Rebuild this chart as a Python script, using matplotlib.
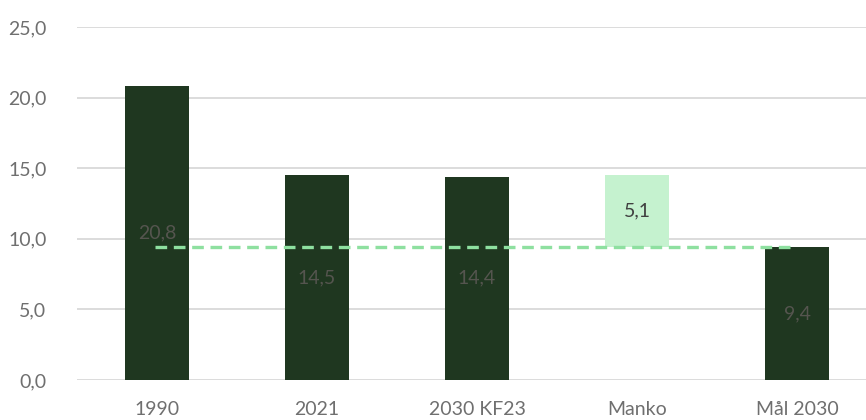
import matplotlib.pyplot as plt

# data
categories = ['1990', '2021', '2030 KF23', 'Manko', 'Mål 2030']
bottoms = [0, 0, 0, 9.4, 0]
heights = [20.8, 14.5, 14.4, 5.1, 9.4]
labels = ['20,8', '14,5', '14,4', '5,1', '9,4']
target = 9.4
yticks = [0, 5, 10, 15, 20, 25]

dark = '#1f3720'
light = '#c5f2cf'
colors = [dark, dark, dark, light, dark]
label_colors = ['#55554f', '#55554f', '#55554f', '#404040', '#55554f']

plt.rcParams['font.family'] = ['Lato', 'DejaVu Sans']

fig = plt.figure(figsize=(8.66, 4.2), dpi=100)
ax = fig.add_axes([77 / 866, 40 / 420, 800 / 866, 353 / 420])

x = range(len(categories))
ax.bar(x, heights, bottom=bottoms, width=0.4, color=colors, zorder=2)

for i in x:
    ax.text(i, bottoms[i] + heights[i] / 2, labels[i], ha='center', va='center',
            fontsize=14, color=label_colors[i], zorder=4)

ax.plot([-0.01, 3.96], [target, target], color='#8ee0a0', linestyle=(0, (3.5, 2)),
        linewidth=2.4, zorder=3)

ax.set_xlim(-0.5, 4.5)
ax.set_ylim(0, 25)
ax.set_yticks(yticks)
ax.set_yticklabels([f'{v:.1f}'.replace('.', ',') for v in yticks])
ax.set_xticks(list(x))
ax.set_xticklabels(categories)
ax.tick_params(length=0, labelsize=14, labelcolor='#6f6f6f')
ax.tick_params(axis='x', pad=15)
ax.tick_params(axis='y', pad=22)
ax.grid(axis='y', color='#d9d9d9', linewidth=1.3, zorder=0)
ax.set_axisbelow(True)
for s in ax.spines.values():
    s.set_visible(False)

fig.savefig('out.png', dpi=100)
